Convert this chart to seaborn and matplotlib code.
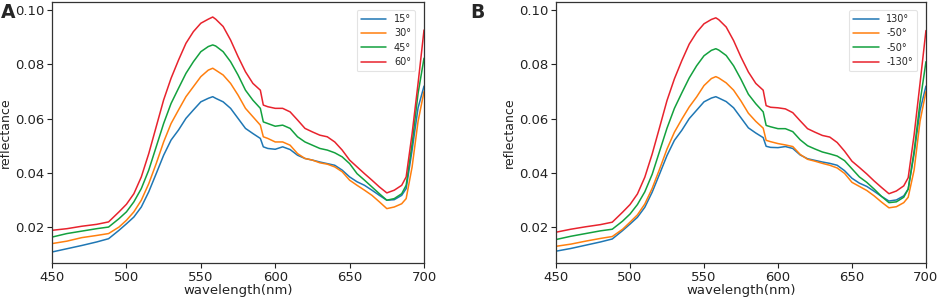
import numpy as np
import pandas as pd
import matplotlib
matplotlib.use("Agg")
import matplotlib.pyplot as plt
import seaborn as sns

# ---------------- data ----------------
wavelength = [450, 460, 470, 480, 488, 495, 500, 505, 510, 515, 520, 525, 530, 535,
              540, 545, 550, 555, 558, 560, 565, 570, 575, 580, 585, 590, 592, 595,
              600, 605, 610, 615, 620, 625, 630, 635, 640, 645, 650, 655, 660, 665,
              670, 675, 680, 685, 688, 692, 696, 700]

a_labels = ["15°", "30°", "45°", "60°"]
b_labels = ["130°", "-50°", "-50°", "-130°"]

a_15 = [0.0108, 0.0120, 0.0132, 0.0145, 0.0157, 0.0188, 0.0212, 0.0237, 0.0274, 0.0330,
        0.0397, 0.0465, 0.0521, 0.0558, 0.0601, 0.0632, 0.0662, 0.0675, 0.0681, 0.0675,
        0.0662, 0.0638, 0.0601, 0.0564, 0.0545, 0.0527, 0.0496, 0.0490, 0.0487, 0.0496,
        0.0486, 0.0465, 0.0453, 0.0447, 0.0440, 0.0434, 0.0428, 0.0410, 0.0385, 0.0367,
        0.0354, 0.0336, 0.0317, 0.0299, 0.0301, 0.0317, 0.0342, 0.0484, 0.0640, 0.0720]
a_30 = [0.0139, 0.0148, 0.0161, 0.0169, 0.0176, 0.0200, 0.0225, 0.0256, 0.0299, 0.0360,
        0.0434, 0.0514, 0.0582, 0.0632, 0.0681, 0.0718, 0.0755, 0.0779, 0.0786, 0.0779,
        0.0761, 0.0730, 0.0687, 0.0638, 0.0607, 0.0576, 0.0533, 0.0527, 0.0514, 0.0514,
        0.0502, 0.0471, 0.0453, 0.0447, 0.0437, 0.0432, 0.0422, 0.0404, 0.0373, 0.0354,
        0.0336, 0.0317, 0.0293, 0.0268, 0.0274, 0.0286, 0.0305, 0.0422, 0.0590, 0.0700]
a_45 = [0.0163, 0.0176, 0.0185, 0.0194, 0.0200, 0.0231, 0.0256, 0.0293, 0.0342, 0.0410,
        0.0496, 0.0582, 0.0656, 0.0712, 0.0767, 0.0810, 0.0847, 0.0866, 0.0872, 0.0868,
        0.0847, 0.0810, 0.0761, 0.0705, 0.0668, 0.0638, 0.0588, 0.0582, 0.0572, 0.0576,
        0.0564, 0.0533, 0.0514, 0.0502, 0.0490, 0.0484, 0.0474, 0.0459, 0.0434, 0.0397,
        0.0373, 0.0348, 0.0323, 0.0299, 0.0305, 0.0323, 0.0354, 0.0508, 0.0693, 0.0823]
a_60 = [0.0188, 0.0194, 0.0203, 0.0210, 0.0219, 0.0256, 0.0284, 0.0323, 0.0385, 0.0471,
        0.0570, 0.0669, 0.0749, 0.0816, 0.0878, 0.0921, 0.0952, 0.0967, 0.0975, 0.0967,
        0.0940, 0.0890, 0.0829, 0.0773, 0.0730, 0.0705, 0.0650, 0.0644, 0.0638, 0.0638,
        0.0625, 0.0595, 0.0564, 0.0551, 0.0539, 0.0533, 0.0514, 0.0484, 0.0447, 0.0422,
        0.0397, 0.0373, 0.0348, 0.0326, 0.0336, 0.0354, 0.0385, 0.0545, 0.0730, 0.0927]

b_130 = [0.0111, 0.0121, 0.0133, 0.0145, 0.0156, 0.0187, 0.0211, 0.0236, 0.0273, 0.0329,
         0.0396, 0.0464, 0.0520, 0.0557, 0.0600, 0.0631, 0.0662, 0.0676, 0.0681, 0.0676,
         0.0663, 0.0640, 0.0603, 0.0566, 0.0547, 0.0530, 0.0498, 0.0494, 0.0493, 0.0497,
         0.0490, 0.0466, 0.0452, 0.0446, 0.0440, 0.0435, 0.0428, 0.0408, 0.0380, 0.0362,
         0.0350, 0.0332, 0.0313, 0.0296, 0.0300, 0.0315, 0.0340, 0.0470, 0.0630, 0.0720]
b_m50a = [0.0129, 0.0137, 0.0148, 0.0158, 0.0165, 0.0192, 0.0218, 0.0245, 0.0285, 0.0343,
          0.0414, 0.0488, 0.0550, 0.0598, 0.0643, 0.0680, 0.0722, 0.0748, 0.0755, 0.0750,
          0.0732, 0.0705, 0.0665, 0.0620, 0.0590, 0.0565, 0.0520, 0.0515, 0.0508, 0.0503,
          0.0497, 0.0468, 0.0450, 0.0443, 0.0435, 0.0428, 0.0418, 0.0398, 0.0365, 0.0350,
          0.0335, 0.0315, 0.0292, 0.0271, 0.0275, 0.0290, 0.0310, 0.0410, 0.0590, 0.0700]
b_m50b = [0.0154, 0.0166, 0.0176, 0.0186, 0.0192, 0.0222, 0.0248, 0.0283, 0.0330, 0.0395,
          0.0480, 0.0565, 0.0638, 0.0695, 0.0750, 0.0795, 0.0832, 0.0852, 0.0858, 0.0853,
          0.0833, 0.0795, 0.0745, 0.0690, 0.0655, 0.0625, 0.0575, 0.0570, 0.0563, 0.0563,
          0.0552, 0.0522, 0.0500, 0.0488, 0.0477, 0.0470, 0.0462, 0.0445, 0.0415, 0.0385,
          0.0365, 0.0340, 0.0313, 0.0290, 0.0293, 0.0310, 0.0340, 0.0480, 0.0660, 0.0810]
b_m130 = [0.0181, 0.0192, 0.0201, 0.0209, 0.0218, 0.0255, 0.0283, 0.0322, 0.0384, 0.0470,
          0.0568, 0.0667, 0.0747, 0.0814, 0.0875, 0.0918, 0.0950, 0.0966, 0.0972, 0.0965,
          0.0938, 0.0888, 0.0827, 0.0772, 0.0730, 0.0705, 0.0648, 0.0642, 0.0640, 0.0636,
          0.0622, 0.0592, 0.0563, 0.0550, 0.0538, 0.0532, 0.0512, 0.0480, 0.0443, 0.0420,
          0.0396, 0.0370, 0.0346, 0.0323, 0.0333, 0.0352, 0.0382, 0.0540, 0.0730, 0.0925]

colors = ["#1f77b4", "#ff7f0e", "#13a13e", "#e8232d"]

# ---------------- plot ----------------
sns.set_style("ticks")
plt.rcParams['font.family'] = ['DejaVu Sans']

fig = plt.figure(figsize=(9.41, 3.0), dpi=100)
axA = fig.add_axes([0.0553, 0.123, 0.3953, 0.870])
axB = fig.add_axes([0.5909, 0.123, 0.3931, 0.870])

panels = [
    (axA, [a_15, a_30, a_45, a_60], a_labels, "A"),
    (axB, [b_130, b_m50a, b_m50b, b_m130], b_labels, "B"),
]

for ax, series, labels, tag in panels:
    for vals, lab, col in zip(series, labels, colors):
        sns.lineplot(x=wavelength, y=vals, ax=ax, color=col, label=lab, linewidth=1.1)
    ax.set_xlim(450, 700)
    ax.set_ylim(0.0067, 0.103)
    ax.set_xticks([450, 500, 550, 600, 650, 700])
    ax.set_yticks([0.02, 0.04, 0.06, 0.08, 0.10])
    ax.set_yticklabels(["0.02", "0.04", "0.06", "0.08", "0.10"])
    ax.tick_params(labelsize=9.5, length=3.5, width=0.8, colors="#222222", pad=2)
    ax.set_xlabel("wavelength(nm)", fontsize=9.5, labelpad=0, color="#222222")
    ax.set_ylabel("reflectance", fontsize=9, labelpad=2, color="#222222")
    for sp in ax.spines.values():
        sp.set_visible(True)
        sp.set_color("#333333")
        sp.set_linewidth(0.9)
    leg = ax.legend(loc="upper right", fontsize=7, labelspacing=0.45,
                    handlelength=2.6, borderpad=0.45, frameon=True,
                    bbox_to_anchor=(0.99, 0.99))
    leg.get_frame().set_edgecolor("#dddddd")
    leg.get_frame().set_linewidth(0.8)

fig.text(0.0005, 0.99, "A", fontsize=13.5, fontweight="bold", va="top", ha="left")
fig.text(0.4995, 0.99, "B", fontsize=13.5, fontweight="bold", va="top", ha="left")

fig.savefig("out.png", dpi=100)
